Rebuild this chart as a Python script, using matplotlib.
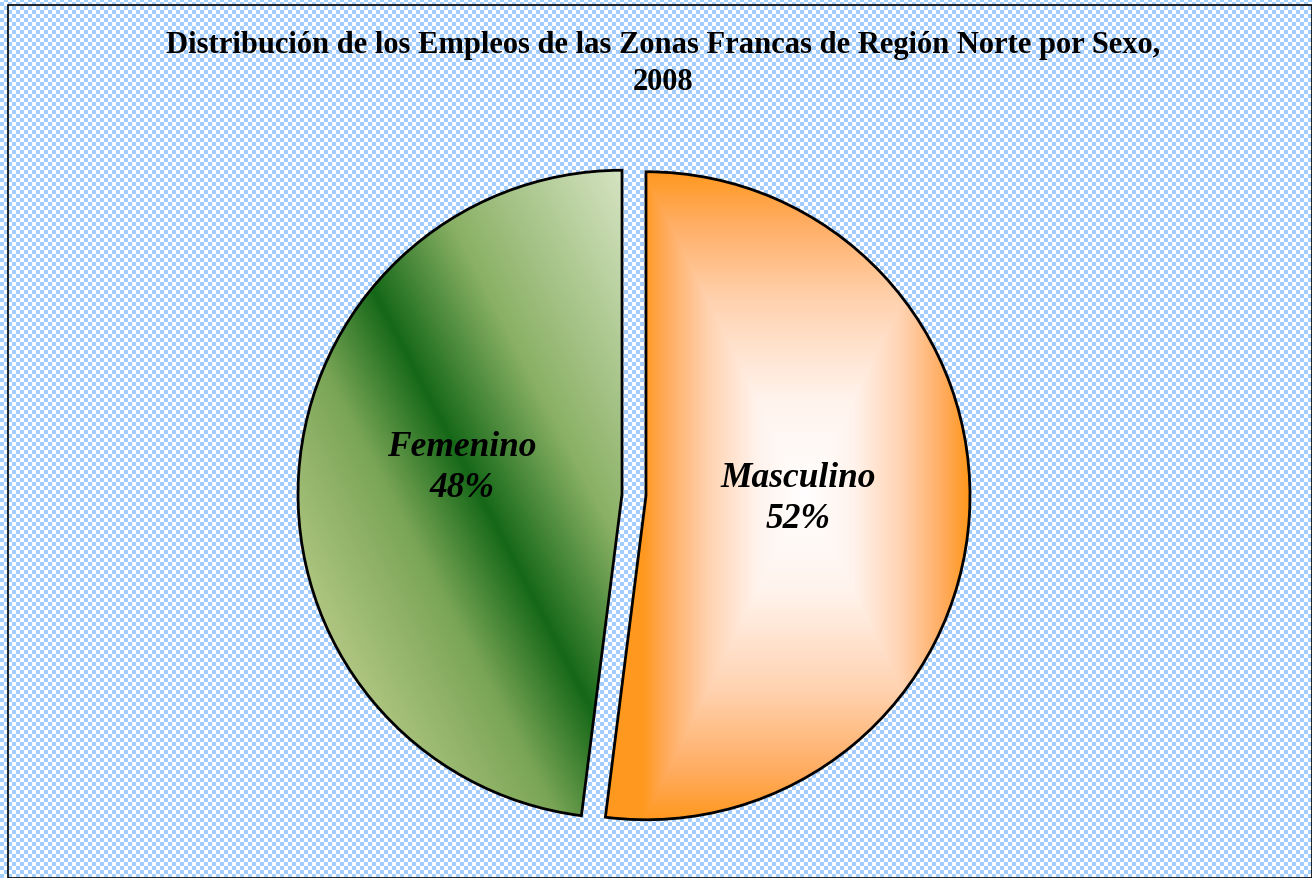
import numpy as np
import matplotlib.pyplot as plt
from matplotlib.patches import Rectangle

# chart data
labels = ['Masculino', 'Femenino']
shares = [52, 48]
title = 'Distribución de los Empleos de las Zonas Francas de Región Norte por Sexo,\n2008'

W, H = 1312, 879


def interp_colors(t, stops, colors):
    # piecewise-linear colour ramp, returns RGB image
    rgb = np.array([[int(c[i:i + 2], 16) / 255 for i in (1, 3, 5)] for c in colors])
    out = np.stack([np.interp(t, stops, rgb[:, k]) for k in range(3)], axis=-1)
    return out


def main():
    fig = plt.figure(figsize=(W / 100, H / 100), dpi=100)
    ax = fig.add_axes([0, 0, 1, 1])

    # checkered light-blue background
    yy, xx = np.mgrid[0:H, 0:W]
    check = ((xx // 4 + yy // 4) % 2).astype(float)
    bg = interp_colors(check, [0, 1], ['#a3cdfd', '#ffffff'])
    ax.imshow(bg, extent=(0, W, 0, H), origin='lower', zorder=0,
              interpolation='nearest', aspect='auto')
    ax.add_patch(Rectangle((8, 0), W - 8, H - 6, fill=False, lw=1.2,
                           edgecolor='black', zorder=5))

    wedges, _ = ax.pie(shares, labels=labels, labeldistance=None,
                       startangle=90, counterclock=False,
                       center=(634, 383), radius=324, explode=[12, 12],
                       frame=True,
                       wedgeprops=dict(edgecolor='black', linewidth=2.0))

    # gradient fills clipped to each slice
    for w in wedges:
        cx, cy = w.center
        r = w.r
        w.set_facecolor('none')
        x0, x1, y0, y1 = cx - r - 5, cx + r + 5, cy - r - 5, cy + r + 5
        gy, gx = np.mgrid[y0:y1, x0:x1]
        if w.get_label() == 'Masculino':
            gcx = cx + r * 0.49
            t = np.maximum(np.abs(gx - gcx) / (r * 0.5), np.abs(gy - cy) / r)
            img = interp_colors(np.clip(t, 0, 1), [0, 0.3, 0.6, 0.85, 1],
                                ['#ffffff', '#fff3ec', '#ffd2b0', '#ffac60', '#ff981e'])
        else:
            s = 0.887 * gx + 0.462 * gy - 602
            img = interp_colors(s, [-200, -80, 0, 100, 290],
                                ['#b0c682', '#7aa556', '#156818', '#89b064', '#dce8ca'])
        im = ax.imshow(img, extent=(x0, x1, y0, y1), origin='lower',
                       zorder=2, aspect='auto')
        im.set_clip_path(w)
        w.set_zorder(3)

    # slice labels
    offsets = {'Masculino': (152, -2), 'Femenino': (-160, 27)}
    for w, lab, val in zip(wedges, labels, shares):
        cx, cy = w.center
        dx, dy = offsets[lab]
        ax.text(cx + dx, cy + dy, f'{lab}\n{val}%', ha='center', va='center',
                fontsize=25.5, fontweight='bold', fontstyle='italic',
                family='Liberation Serif', linespacing=1.3, zorder=6)

    ax.text(663, H - 64, title, ha='center', va='center', fontsize=22,
            fontweight='bold', family='Liberation Serif', linespacing=1.4, zorder=6)

    ax.set_xlim(0, W)
    ax.set_ylim(0, H)
    ax.axis('off')
    fig.savefig('out.png', dpi=100)


if __name__ == '__main__':
    main()
